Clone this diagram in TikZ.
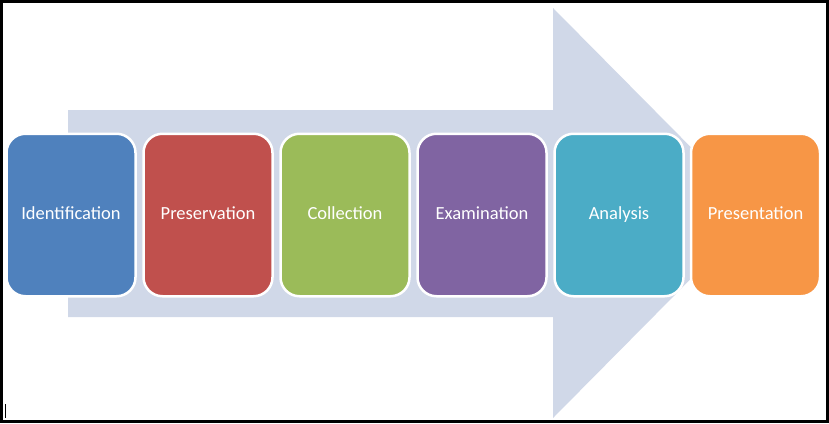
\documentclass[tikz,border=0pt]{standalone}
\usepackage{fontspec}
\setmainfont{Carlito}
\definecolor{cBlue}{HTML}{4F81BD}
\definecolor{cRed}{HTML}{C0504D}
\definecolor{cGreen}{HTML}{9BBB59}
\definecolor{cPurple}{HTML}{8064A2}
\definecolor{cAqua}{HTML}{4BACC6}
\definecolor{cOrange}{HTML}{F79646}
\definecolor{cArrow}{HTML}{D0D8E8}
\begin{document}
\begin{tikzpicture}[x=1pt,y=-1pt,
  stepbox/.style={rectangle, rounded corners=19pt, draw=white, line width=2.5pt,
    minimum width=129pt, minimum height=162.5pt, inner sep=0pt,
    text height=12pt, text depth=4pt,
    text=white, font=\fontsize{18.5}{22}\selectfont}]
\useasboundingbox (0,0) rectangle (829,423);
\fill[white] (0,0) rectangle (829,423);
% big arrow
\fill[cArrow] (68,110) -- (553,110) -- (553,8) -- (756,213) -- (553,418) -- (553,317) -- (68,317) -- cycle;
% boxes
\node[stepbox, fill=cBlue]   (b1) at (71,215) {Identification};
\node[stepbox, fill=cRed]    (b2) at (208,215) {Preservation};
\node[stepbox, fill=cGreen]  (b3) at (345,215) {Collection};
\node[stepbox, fill=cPurple] (b4) at (482,215) {Examination};
\node[stepbox, fill=cAqua]   (b5) at (619,215) {Analysis};
\node[stepbox, fill=cOrange] (b6) at (755.5,215) {Presentation};
% frame
\draw[black, line width=2.5pt] (1.25,1.25) rectangle (827.25,421.25);
% cursor
\draw[black, line width=1.5pt] (5.5,404) -- (5.5,418);
\end{tikzpicture}
\end{document}
